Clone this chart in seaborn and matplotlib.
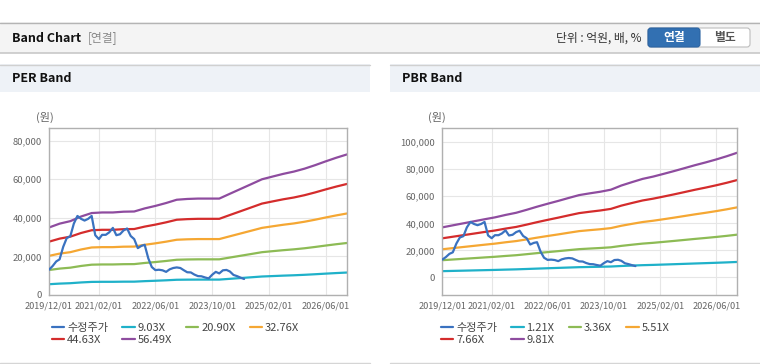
import pandas as pd
import matplotlib.pyplot as plt
import matplotlib.dates as mdates
import seaborn as sns
from matplotlib.patches import Rectangle, FancyBboxPatch
from matplotlib.ticker import FuncFormatter

# data
band_dates = pd.date_range('2019-12-01', periods=29, freq='3MS')
price_dates = pd.date_range('2019-12-01', periods=56, freq='MS')

price = [13100, 15000, 17400, 18500, 25000, 29500, 30500, 37000, 41000, 39500,
         38600, 39500, 41000, 31000, 29000, 31200, 31200, 32500, 34800, 31000,
         31500, 33500, 34500, 30600, 29000, 24300, 25500, 26000, 19000, 14500,
         12900, 13100, 12800, 12000, 13300, 14000, 14300, 14000, 12800, 11800,
         11700, 10600, 9800, 9700, 9100, 8600, 10500, 12000, 11200, 12800,
         13000, 12200, 10400, 9800, 9000, 8300]

per_labels = ['9.03X', '20.90X', '32.76X', '44.63X', '56.49X']
per_903 = [5590, 5910, 6120, 6510, 6790, 6840, 6840, 6910, 6920, 7180, 7390, 7620,
           7900, 7960, 7990, 7990, 7990, 8390, 8790, 9190, 9590, 9810, 10040,
           10230, 10470, 10760, 11080, 11380, 11650]
per_2090 = [12950, 13690, 14170, 15060, 15720, 15840, 15840, 15980, 16020, 16610,
            17090, 17650, 18280, 18420, 18500, 18500, 18500, 19420, 20350, 21270,
            22200, 22720, 23230, 23680, 24230, 24900, 25640, 26340, 26970]
per_3276 = [20300, 21460, 22210, 23600, 24650, 24820, 24820, 25050, 25110, 26040,
            26790, 27660, 28650, 28880, 29000, 29000, 29000, 30450, 31900, 33350,
            34800, 35610, 36420, 37110, 37990, 39030, 40190, 41290, 42280]
per_4463 = [27650, 29230, 30260, 32150, 33580, 33810, 33810, 34130, 34210, 35470,
            36500, 37690, 39030, 39340, 39500, 39500, 39500, 41480, 43450, 45430,
            47400, 48510, 49620, 50560, 51750, 53170, 54750, 56250, 57590]
per_5649 = [35000, 37000, 38300, 40700, 42500, 42800, 42800, 43200, 43300, 44900,
            46200, 47700, 49400, 49800, 50000, 50000, 50000, 52500, 55000, 57500,
            60000, 61400, 62800, 64000, 65500, 67300, 69300, 71200, 72900]

pbr_labels = ['1.21X', '3.36X', '5.51X', '7.66X', '9.81X']
pbr_121 = [4560, 4750, 4930, 5120, 5300, 5480, 5700, 5900, 6170, 6450, 6720, 6980,
           7250, 7510, 7670, 7820, 8000, 8390, 8700, 8990, 9200, 9450, 9710, 9980,
           10250, 10500, 10770, 11060, 11380]
pbr_336 = [12670, 13190, 13700, 14210, 14730, 15210, 15820, 16370, 17130, 17910,
           18670, 19390, 20140, 20860, 21300, 21720, 22230, 23290, 24150, 24970,
           25550, 26240, 26960, 27710, 28460, 29150, 29900, 30720, 31610]
pbr_551 = [20780, 21620, 22470, 23310, 24150, 24940, 25950, 26850, 28080, 29380,
           30610, 31790, 33030, 34210, 34940, 35610, 36450, 38190, 39600, 40950,
           41900, 43020, 44200, 45440, 46670, 47800, 49030, 50380, 51840]
pbr_766 = [28890, 30060, 31230, 32400, 33580, 34670, 36080, 37320, 39040, 40840,
           42560, 44200, 45910, 47550, 48570, 49510, 50680, 53100, 55050, 56920,
           58250, 59810, 61450, 63170, 64890, 66450, 68170, 70040, 72070]
pbr_981 = [37000, 38500, 40000, 41500, 43000, 44400, 46200, 47800, 50000, 52300,
           54500, 56600, 58800, 60900, 62200, 63400, 64900, 68000, 70500, 72900,
           74600, 76600, 78700, 80900, 83100, 85100, 87300, 89700, 92300]

tick_dates = ['2019-12-01', '2021-02-01', '2022-06-01', '2023-10-01', '2025-02-01', '2026-06-01']
price_label = '수정주가'
band_colors = ['#1fb1c9', '#8dbb55', '#f5a733', '#d42c2c', '#8e4c9f']
price_color = '#3a72c0'

sns.set_style('white')
plt.rcParams['font.family'] = ['Noto Sans CJK KR', 'DejaVu Sans']

fig = plt.figure(figsize=(7.6, 3.64), dpi=100)

# page decorations in pixel coords
bg = fig.add_axes([0, 0, 1, 1], zorder=-5)
bg.set_xlim(0, 760)
bg.set_ylim(364, 0)
bg.axis('off')
bg.add_patch(Rectangle((0, 22), 760, 31, facecolor='#f4f4f4', edgecolor='none'))
bg.plot([0, 760], [22.5, 22.5], color='#b4b4b4', lw=1)
bg.plot([0, 760], [53, 53], color='#c8c8c8', lw=1.2)
bg.text(12, 38, 'Band Chart', fontsize=9, fontweight='bold', color='#111', va='center')
bg.text(88, 38, '[연결]', fontsize=8.5, color='#888', va='center')
bg.text(641, 38, '단위 : 억원, 배, %', fontsize=8.5, color='#333', va='center', ha='right')
bg.add_patch(FancyBboxPatch((648, 28), 102, 19, boxstyle='round,pad=0,rounding_size=3',
                            facecolor='white', edgecolor='#bdbdbd', lw=0.8))
bg.add_patch(FancyBboxPatch((648, 28), 52, 19, boxstyle='round,pad=0,rounding_size=3',
                            facecolor='#3270b2', edgecolor='#2c64a3', lw=0.8))
bg.text(674, 38, '연결', fontsize=8.5, fontweight='bold', color='white', va='center', ha='center')
bg.text(725, 38, '별도', fontsize=8.5, fontweight='bold', color='#555', va='center', ha='center')

for x0, title in [(0, 'PER Band'), (390, 'PBR Band')]:
    bg.add_patch(Rectangle((x0, 64), 370, 28, facecolor='#eef2f7', edgecolor='none'))
    bg.plot([x0, x0 + 370], [64.5, 64.5], color='#d0d0d0', lw=1)
    bg.plot([x0, x0 + 370], [362.5, 362.5], color='#d5d5d5', lw=1)
    bg.text(x0 + 12, 79, title, fontsize=9, fontweight='bold', color='#111', va='center')


def draw_band(rect, bands, labels, ylim, yticks, unit_x, legend_x):
    ax = fig.add_axes(rect)
    for vals, lab, col in zip(bands, labels, band_colors):
        sns.lineplot(x=band_dates, y=vals, color=col, lw=1.6, label=lab, ax=ax)
    sns.lineplot(x=price_dates, y=price, color=price_color, lw=1.6, label=price_label, ax=ax, zorder=5)

    ax.set_xlim(pd.Timestamp('2019-12-01'), pd.Timestamp('2026-12-01'))
    ax.set_ylim(*ylim)
    ax.set_xticks(pd.to_datetime(tick_dates))
    ax.xaxis.set_major_formatter(mdates.DateFormatter('%Y/%m/%d'))
    ax.set_yticks(yticks)
    ax.yaxis.set_major_formatter(FuncFormatter(lambda v, p: f'{int(v):,}'))
    ax.grid(True, color='#e6e6e6', lw=0.8)
    ax.set_axisbelow(True)
    for s in ax.spines.values():
        s.set_color('#b0b0b0')
        s.set_linewidth(1)
    ax.tick_params(axis='both', length=3, width=0.8, color='#b0b0b0', labelcolor='#666',
                   labelsize=6.8, pad=2)
    ax.tick_params(axis='x', labelsize=6.6)
    ax.set_xlabel('')
    ax.set_ylabel('')
    fig.text(unit_x / 760, 1 - 117 / 364, '(원)', fontsize=8, color='#666', ha='center', va='center')

    # legend filled row by row: price, band1..band3 / band4, band5
    h, l = ax.get_legend_handles_labels()
    order = [5, 3, 0, 4, 1, 2]
    ax.get_legend().remove()
    fig.legend([h[i] for i in order], [l[i] for i in order], ncol=4, frameon=False,
               loc='upper left', bbox_to_anchor=(legend_x / 760, 1 - 323 / 364),
               fontsize=8, handlelength=1.1, handletextpad=0.25, columnspacing=1.3,
               labelspacing=0.2, borderpad=0, borderaxespad=0, labelcolor='#444')
    return ax


draw_band([49 / 760, 1 - 295 / 364, 298 / 760, 167 / 364],
          [per_903, per_2090, per_3276, per_4463, per_5649], per_labels,
          (0, 86600), [0, 20000, 40000, 60000, 80000], 45, 52)
draw_band([442.3 / 760, 1 - 295 / 364, 295 / 760, 167 / 364],
          [pbr_121, pbr_336, pbr_551, pbr_766, pbr_981], pbr_labels,
          (-13100, 110600), [0, 20000, 40000, 60000, 80000, 100000], 437, 441)

fig.savefig('out.png', dpi=100)
